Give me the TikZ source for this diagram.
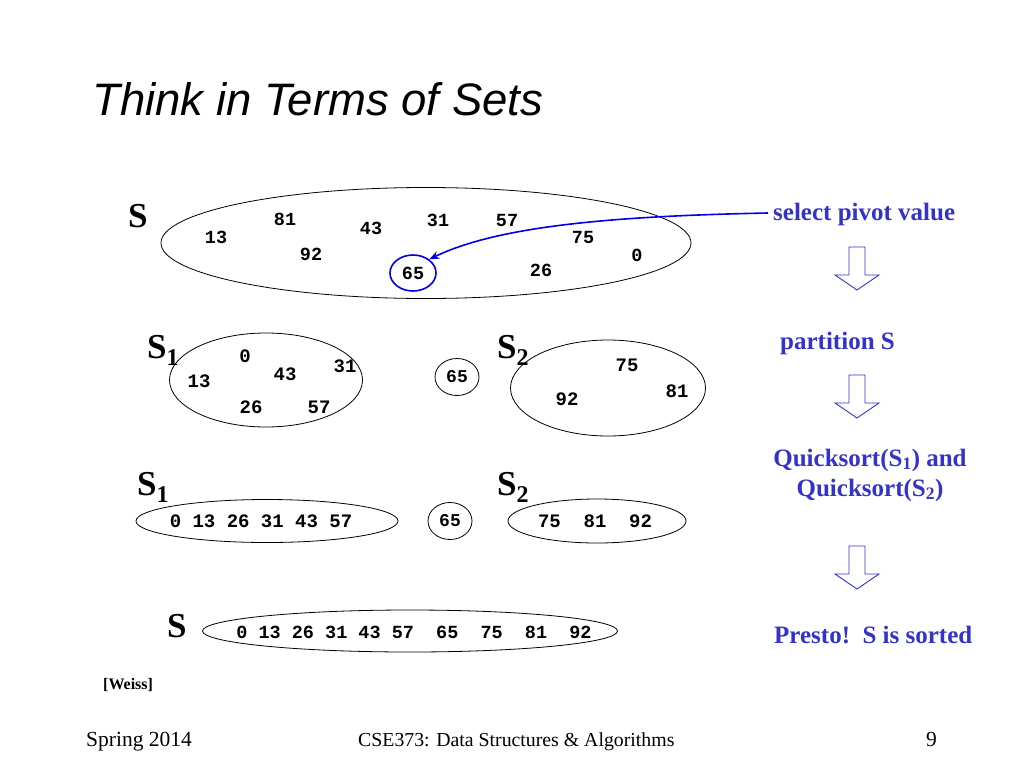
\documentclass[tikz,border=0pt]{standalone}
\usepackage{fontspec}
\setmainfont{Liberation Serif}
\newfontfamily\titlefont{Liberation Sans}
\newfontfamily\numfont{Liberation Mono}
\usetikzlibrary{shapes.geometric,arrows.meta}
\definecolor{textblue}{RGB}{51,51,204}
\definecolor{linkblue}{RGB}{0,0,230}
\newcommand{\setlbl}[1]{S\raisebox{-7pt}{\fontsize{24}{24}\selectfont #1}}
\tikzset{
  setlabel/.style={anchor=base west, inner sep=0pt, font=\fontsize{35}{35}\selectfont\bfseries},
  num/.style={inner sep=0pt, font=\fontsize{18.5}{18.5}\selectfont\numfont\bfseries},
  numsm/.style={inner sep=0pt, font=\fontsize{19}{19}\selectfont\numfont\bfseries},
  setellipse/.style={ellipse, draw=black, line width=0.8pt, inner sep=0pt},
  pivotcirc/.style={ellipse, draw=black, line width=0.8pt, inner sep=0pt, minimum width=44pt, minimum height=37pt, font=\fontsize{18}{18}\selectfont\numfont\bfseries},
  steptext/.style={anchor=base west, inner sep=0pt, text=textblue, font=\fontsize{25}{25}\selectfont\bfseries},
  footer/.style={anchor=base west, inner sep=0pt},
  hollowdown/.pic={\draw[draw=textblue, line width=0.9pt, line join=miter, fill=white]
     (-8,0) -- (8,0) -- (8,28) -- (22,28) -- (0,43) -- (-22,28) -- (-8,28) -- cycle;}
}
\begin{document}
\begin{tikzpicture}[x=1pt,y=-1pt]
\useasboundingbox[fill=white] (0,0) rectangle (1024,768);
% title
\node[anchor=base west, inner sep=0pt, font=\fontsize{45.5}{45.5}\selectfont\titlefont\itshape] (title) at (92,115) {Think in Terms of Sets};

% ---- row 1: S ----
\node[setlabel] (lS) at (128,227) {S};
\node[setellipse, minimum width=530pt, minimum height=111pt] (eS) at (426,243) {};
\node[num] (a13) at (216,237) {13};
\node[num] (a81) at (285,219) {81};
\node[num] (a92) at (311,254) {92};
\node[num] (a43) at (371,228) {43};
\node[num] (a31) at (438,220) {31};
\node[num] (a57) at (507,220) {57};
\node[num] (a75) at (583,237) {75};
\node[num] (a0)  at (637,255) {0};
\node[num] (a26) at (541,270) {26};
\node[pivotcirc, draw=linkblue, line width=1.6pt, minimum width=46pt, minimum height=36pt, font=\fontsize{18.5}{18.5}\selectfont\numfont\bfseries] (piv) at (413,273) {65};

\node[steptext] (sel) at (773,220) {select pivot value};
\draw[linkblue, line width=1.6pt, -{Stealth[length=10pt,width=8pt]}] ([xshift=-5pt,yshift=7pt]sel.base west) .. controls (620,216) and (500,225) .. (piv.40);

\pic at (857,247) {hollowdown};

% ---- row 2: partition ----
\node[setlabel] (lS1a) at (147,358) {\setlbl{1}};
\node[setellipse, minimum width=193pt, minimum height=94pt] (eS1a) at (266,380) {};
\node[numsm] (b0)  at (245,356) {0};
\node[numsm] (b43) at (285,374) {43};
\node[numsm] (b31) at (345,366) {31};
\node[numsm] (b13) at (199,381) {13};
\node[numsm] (b26) at (251,407) {26};
\node[numsm] (b57) at (319,407) {57};
\node[pivotcirc] (p2) at (457,377) {65};
\node[setlabel] (lS2a) at (497,358) {\setlbl{2}};
\node[setellipse, minimum width=195pt, minimum height=96pt] (eS2a) at (608,388) {};
\node[numsm] (b75) at (627,365) {75};
\node[numsm] (b81) at (677,391) {81};
\node[numsm] (b92) at (567,399) {92};

\node[steptext] (part) at (780,349) {partition S};
\pic at (857,375) {hollowdown};

% ---- row 3: recursive sort ----
\node[setlabel] (lS1b) at (137,495) {\setlbl{1}};
\node[setellipse, minimum width=262pt, minimum height=43pt] (eS1b) at (267,521) {};
\node[numsm] (c1) at (261,521) {0 13 26 31 43 57};
\node[pivotcirc] (p3) at (450,521) {65};
\node[setlabel] (lS2b) at (497,495) {\setlbl{2}};
\node[setellipse, minimum width=178pt, minimum height=44pt] (eS2b) at (597,521) {};
\node[numsm] (c2) at (595,521) {75\ \ 81\ \ 92};

\node[anchor=base, inner sep=0pt, text=textblue, font=\fontsize{25}{30}\selectfont\bfseries, align=center] (qs) at (870,496)
  {Quicksort(S\textsubscript{1}) and\\ Quicksort(S\textsubscript{2})};
\pic at (857,546) {hollowdown};

% ---- row 4: sorted ----
\node[setlabel] (lS4) at (167,637) {S};
\node[setellipse, minimum width=415pt, minimum height=42pt] (eS4) at (410,631) {};
\node[num] (d1) at (414,632) {0 13 26 31 43 57\ \ 65\ \ 75\ \ 81\ \ 92};

\node[steptext] (presto) at (774,643) {Presto!\ \ S is sorted};

\node[anchor=base west, inner sep=0pt, font=\fontsize{16}{16}\selectfont\bfseries] (weiss) at (103,689) {[Weiss]};

% footer
\node[footer, font=\fontsize{21.5}{21.5}\selectfont] (f1) at (86,746) {Spring 2014};
\node[footer, font=\fontsize{19.8}{19.8}\selectfont] (f2) at (358,746) {CSE373: Data Structures \& Algorithms};
\node[footer, font=\fontsize{21.5}{21.5}\selectfont] (f3) at (926,746) {9};
\end{tikzpicture}
\end{document}
